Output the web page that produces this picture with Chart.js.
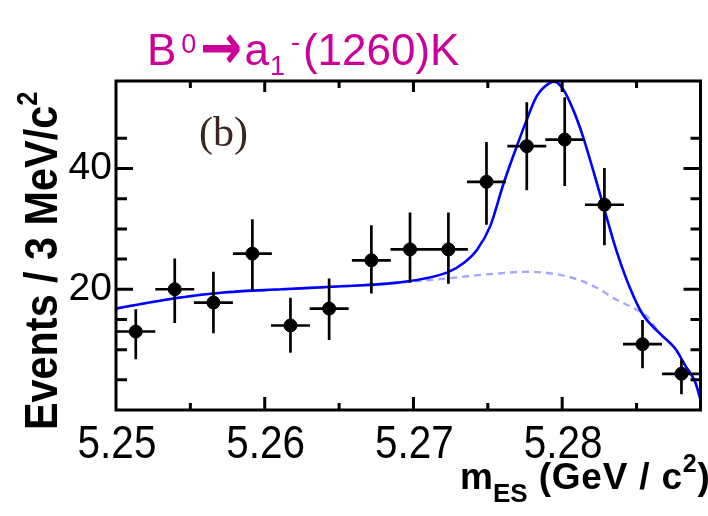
<!DOCTYPE html>
<html>
<head>
<meta charset="utf-8">
<script src="https://cdn.jsdelivr.net/npm/chart.js@4.4.0/dist/chart.umd.min.js"></script>
<style>
  body { margin: 0; background: #fff; }
  #wrap { position: relative; width: 708px; height: 516px; overflow: hidden; }
  #plot { position: absolute; left: 0; top: 0; }
  .lbl { position: absolute; white-space: nowrap; line-height: 1; }
  .lbl sup, .lbl sub { line-height: 0; vertical-align: baseline; position: relative; }
  #title { left: 147px; top: 11px; font-family: 'Liberation Sans', Arial, sans-serif; font-size: 44px; color: #cc0099; }
  #title .s0 { font-size: 27px; top: -12px; margin-left: 5px; }
  #title .arr { display: inline-block; width: 40px; margin: 0 4px 0 4px; font-family: 'DejaVu Sans', sans-serif;
                font-weight: bold; font-size: 64px; transform-origin: 0 50%; transform: scaleX(0.78); position: relative; top: 4px; }
  #title .s1 { font-size: 27px; top: 10px; margin-left: 1px; }
  #title .sm { font-size: 27px; top: -14px; margin-left: 6px; margin-right: 3px; }
  #xtitle { left: 460px; top: 458px; font-family: 'Liberation Sans', Arial, sans-serif; font-weight: bold; font-size: 37px; color: #000; }
  #xtitle sub { font-size: 26px; top: 13px; }
  #xtitle sup { font-size: 25px; top: -17px; }
  #xtitle .rest { letter-spacing: 0.8px; }
  #ytitle { left: 0; top: 0; transform-origin: 0 0; transform: translate(17px, 430px) rotate(-90deg) scaleX(0.88);
            font-family: 'Liberation Sans', Arial, sans-serif; font-weight: bold; font-size: 47px; color: #000; }
  #ytitle sup { font-size: 29px; top: -20px; }
  #tag { left: 199px; top: 111px; font-family: 'Liberation Serif', 'Times New Roman', serif; font-size: 42px; color: #3c2420; }
</style>
</head>
<body>
<div id="wrap">
  <canvas id="plot" width="708" height="516"></canvas>
  <div class="lbl" id="title">B<sup class="s0">0</sup><span class="arr">→</span>a<sub class="s1">1</sub><sup class="sm">-</sup>(1260)K</div>
  <div class="lbl" id="ytitle">Events / 3 MeV/c<sup>2</sup></div>
  <div class="lbl" id="xtitle">m<sub>ES</sub><span class="rest"> (GeV / c<sup>2</sup>)</span></div>
  <div class="lbl" id="tag">(b)</div>
</div>
<script>
// data points (bin centre, events, upper / lower end of error bar)
const binCenters = [5.25133, 5.25395, 5.25655, 5.25917, 5.26173, 5.26433, 5.26717, 5.26977,
                    5.27235, 5.27491, 5.27762, 5.28017, 5.28284, 5.28540, 5.28802];
const counts   = [13.0, 20.0, 17.8, 25.9, 14.0, 16.8, 24.8, 26.6, 26.6, 37.8, 43.7, 44.8, 34.0, 10.9, 6.0];
const errHigh  = [16.7, 25.1, 22.9, 31.6, 18.6, 21.8, 30.6, 32.7, 32.7, 44.4, 51.0, 51.8, 40.1, 14.9, 8.4];
const errLow   = [8.4, 14.4, 12.7, 19.7, 9.5, 11.6, 19.3, 21.1, 20.9, 30.7, 36.4, 37.1, 27.3, 6.9, 2.6];
const binHalfWidth = 0.00131;

// total fit (solid line)
const fitX = [5.25, 5.25395, 5.2574, 5.26117, 5.26517, 5.26895, 5.27229, 5.2734, 5.27429, 5.27517,
              5.27607, 5.27695, 5.27762, 5.27829, 5.27917, 5.2795, 5.28007, 5.28073, 5.2814, 5.28207,
              5.28284, 5.28362, 5.28451, 5.2854, 5.28651, 5.28762, 5.28829, 5.28895, 5.28929];
const fitY = [16.8, 18.5, 19.5, 20.0, 20.5, 21.1, 22.8, 24.4, 26.6, 30.5,
              37.6, 43.7, 48.1, 52.0, 54.2, 54.4, 53.1, 49.8, 45.3, 39.8,
              33.2, 26.6, 20.5, 15.9, 12.8, 10.1, 7.3, 4.6, 1.8];

// background component (dashed line)
const bkgX = [5.25, 5.25395, 5.2574, 5.26117, 5.26517, 5.26895, 5.27229, 5.2734, 5.27557, 5.27762,
              5.2796, 5.28095, 5.28229, 5.28362, 5.28495, 5.28580, 5.28651, 5.28762, 5.28829, 5.28895, 5.28929];
const bkgY = [16.8, 18.5, 19.5, 20.0, 20.5, 21.1, 21.8, 22.1, 22.6, 22.9,
              22.5, 21.7, 20.3, 18.3, 16.7, 15.3, 12.8, 10.1, 7.3, 4.6, 1.8];

const xTickLabels = ['5.25', '5.26', '5.27', '5.28'];
const yTickLabels = [20, 40];

const pts = (xs, ys) => xs.map((x, i) => ({ x, y: ys[i] }));

const near = (a, b, eps) => Math.abs(a - b) < eps;
const isMult = (v, step) => near(v / step, Math.round(v / step), 1e-4);

const errorBars = {
  id: 'errorBars',
  afterDatasetsDraw(chart) {
    const { ctx, scales: { x, y } } = chart;
    ctx.save();
    ctx.strokeStyle = '#000';
    ctx.lineWidth = 2.7;
    binCenters.forEach((c, i) => {
      const px = x.getPixelForValue(c);
      const py = y.getPixelForValue(counts[i]);
      ctx.beginPath();
      ctx.moveTo(px, y.getPixelForValue(errLow[i]));
      ctx.lineTo(px, y.getPixelForValue(errHigh[i]));
      ctx.moveTo(x.getPixelForValue(c - binHalfWidth), py);
      ctx.lineTo(x.getPixelForValue(c + binHalfWidth), py);
      ctx.stroke();
    });
    ctx.restore();
  }
};

// frame with inward ticks on all four sides, plus the tall narrow x labels
const frame = {
  id: 'frame',
  afterDraw(chart) {
    const { ctx, chartArea: a, scales: { x, y } } = chart;
    ctx.save();
    ctx.strokeStyle = '#000';
    ctx.lineWidth = 3;
    ctx.strokeRect(a.left, a.top, a.right - a.left, a.bottom - a.top);
    ctx.beginPath();
    x.ticks.forEach(t => {
      if (!isMult(t.value, 0.005) || near(t.value, x.min, 1e-6)) return;
      const px = x.getPixelForValue(t.value);
      const major = isMult(t.value, 0.01);
      ctx.moveTo(px, a.bottom);
      ctx.lineTo(px, a.bottom - (major ? 13 : 7));
      ctx.moveTo(px, a.top);
      ctx.lineTo(px, a.top + (major ? 11 : 7));
    });
    y.ticks.forEach(t => {
      if (!isMult(t.value, 5) || t.value === 0) return;
      const py = y.getPixelForValue(t.value);
      const major = isMult(t.value, 20);
      ctx.moveTo(a.left, py);
      ctx.lineTo(a.left + (major ? 17 : 11), py);
      ctx.moveTo(a.right, py);
      ctx.lineTo(a.right - (major ? 17 : 10), py);
    });
    ctx.stroke();

    ctx.fillStyle = '#000';
    ctx.font = "46px 'Liberation Sans', Arial, sans-serif";
    ctx.textAlign = 'center';
    ctx.textBaseline = 'alphabetic';
    xTickLabels.forEach(lbl => {
      ctx.save();
      ctx.translate(x.getPixelForValue(parseFloat(lbl)) + 1, a.bottom + 48);
      ctx.scale(0.88, 1);
      ctx.fillText(lbl, 0, 0);
      ctx.restore();
    });
    ctx.restore();
  }
};

new Chart(document.getElementById('plot'), {
  type: 'scatter',
  data: {
    datasets: [
      {
        label: 'data',
        data: pts(binCenters, counts),
        backgroundColor: '#000',
        borderColor: '#000',
        pointRadius: 6.5,
        pointHoverRadius: 6.5,
        order: 0
      },
      {
        label: 'fit',
        data: pts(fitX, fitY),
        showLine: true,
        borderColor: '#0000ff',
        borderWidth: 2.6,
        pointRadius: 0,
        cubicInterpolationMode: 'monotone',
        order: 1
      },
      {
        label: 'background',
        data: pts(bkgX, bkgY),
        showLine: true,
        borderColor: 'rgba(120,120,255,0.65)',
        borderWidth: 2.4,
        borderDash: [7, 5],
        pointRadius: 0,
        cubicInterpolationMode: 'monotone',
        order: 2
      }
    ]
  },
  options: {
    responsive: false,
    animation: false,
    layout: { padding: { top: 81, right: 3, left: 0, bottom: 0 } },
    plugins: { legend: { display: false }, tooltip: { enabled: false } },
    scales: {
      x: {
        type: 'linear',
        min: 5.25,
        max: 5.2893,
        grid: { display: false, drawTicks: false },
        border: { display: false },
        afterFit: s => { s.height = 106; },
        ticks: { stepSize: 0.005, autoSkip: false, display: false }
      },
      y: {
        min: 0,
        max: 54.5,
        grid: { display: false, drawTicks: false },
        border: { display: false },
        afterFit: s => { s.width = 116; },
        ticks: {
          stepSize: 5,
          autoSkip: false,
          padding: 4,
          color: '#000',
          font: { family: "'Liberation Sans', Arial, sans-serif", size: 39 },
          callback: v => yTickLabels.includes(v) ? String(v) : ''
        }
      }
    }
  },
  plugins: [errorBars, frame]
});
</script>
</body>
</html>
